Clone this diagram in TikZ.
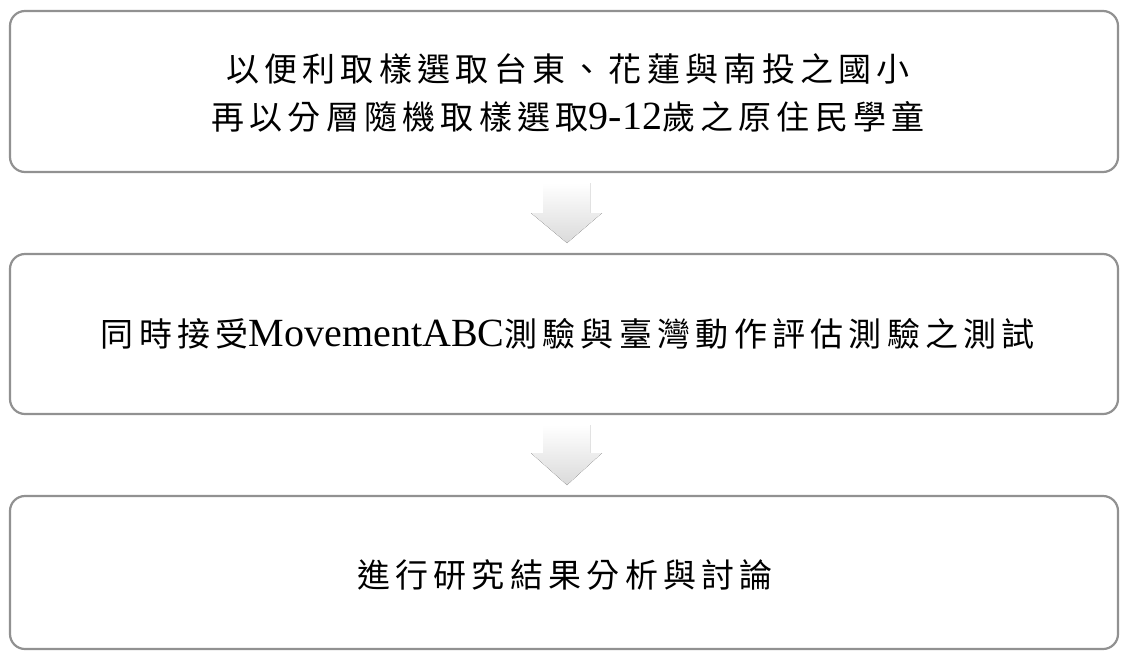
\documentclass[tikz,border=0pt]{standalone}
\usepackage{fontspec}
\setmainfont{Liberation Serif}
\newfontfamily\cjk[LetterSpace=16]{Noto Sans CJK TC}
\newfontfamily\lat{Liberation Serif}
\newcommand{\latin}[1]{{\fontsize{40}{47}\lat #1}}
\begin{document}
\begin{tikzpicture}[x=1pt,y=-1pt,
  stepbox/.style={draw=boxgray,line width=2.2pt,rounded corners=15pt,fill=white},
  txt/.style={font=\fontsize{33}{48}\cjk,align=center,text=black},
  blockarrow/.style={top color=white,bottom color=arrowgray,draw=none}]
\definecolor{boxgray}{RGB}{145,145,145}
\definecolor{arrowgray}{RGB}{218,218,218}
\useasboundingbox (0,0) rectangle (1121,651);
\draw[stepbox] (10,11) rectangle (1118,172);
\draw[stepbox] (10,254) rectangle (1118,414);
\draw[stepbox] (10,496) rectangle (1118,649);
\coordinate (b1) at (568,93);
\coordinate (b2) at (568,334);
\coordinate (b3) at (565,575);
\node[txt] (t1) at (b1) {以便利取樣選取台東、花蓮與南投之國小\\再以分層隨機取樣選取\latin{9-12}歲之原住民學童};
\node[txt] (t2) at (b2) {同時接受\latin{MovementABC}測驗與臺灣動作評估測驗之測試};
\node[txt] (t3) at (b3) {進行研究結果分析與討論};
\fill[blockarrow] (543,183) -- (590,183) -- (590,213) -- (602,213) -- (567,243) -- (531,213) -- (543,213) -- cycle;
\fill[blockarrow] (543,425) -- (590,425) -- (590,453) -- (602,453) -- (567,485) -- (531,453) -- (543,453) -- cycle;
\end{tikzpicture}
\end{document}
